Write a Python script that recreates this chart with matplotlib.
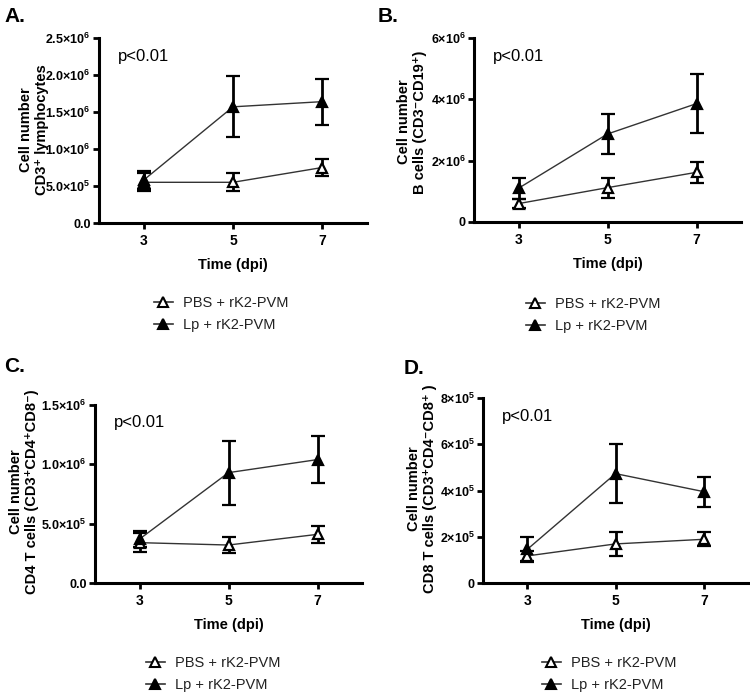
import matplotlib
matplotlib.use("Agg")
import matplotlib.pyplot as plt
from matplotlib.lines import Line2D

plt.rcParams['font.family'] = ['Liberation Sans', 'DejaVu Sans']
plt.rcParams['mathtext.fontset'] = 'custom'
plt.rcParams['mathtext.bf'] = 'Liberation Sans:bold'
plt.rcParams['mathtext.rm'] = 'Liberation Sans'

W, H = 750, 695

days = [3, 5, 7]

# panel A - CD3+ lymphocytes
pbs_a = [0.55e6, 0.55e6, 0.75e6]
pbs_a_err = [0.12e6, 0.12e6, 0.12e6]
lp_a = [0.58e6, 1.57e6, 1.64e6]
lp_a_err = [0.12e6, 0.41e6, 0.31e6]

# panel B - B cells
pbs_b = [0.60e6, 1.12e6, 1.62e6]
pbs_b_err = [0.15e6, 0.33e6, 0.34e6]
lp_b = [1.10e6, 2.87e6, 3.86e6]
lp_b_err = [0.35e6, 0.66e6, 0.97e6]

# panel C - CD4 T cells
pbs_c = [0.34e6, 0.32e6, 0.41e6]
pbs_c_err = [0.08e6, 0.07e6, 0.07e6]
lp_c = [0.37e6, 0.93e6, 1.04e6]
lp_c_err = [0.07e6, 0.27e6, 0.20e6]

# panel D - CD8 T cells
pbs_d = [1.17e5, 1.69e5, 1.89e5]
pbs_d_err = [0.20e5, 0.52e5, 0.30e5]
lp_d = [1.45e5, 4.73e5, 3.95e5]
lp_d_err = [0.55e5, 1.28e5, 0.65e5]

ticks_a = [0, 5e5, 1e6, 1.5e6, 2e6, 2.5e6]
labels_a = ["0.0", r"5.0×10$^{\mathbf{5}}$", r"1.0×10$^{\mathbf{6}}$", r"1.5×10$^{\mathbf{6}}$",
            r"2.0×10$^{\mathbf{6}}$", r"2.5×10$^{\mathbf{6}}$"]
ticks_b = [0, 2e6, 4e6, 6e6]
labels_b = ["0", r"2×10$^{\mathbf{6}}$", r"4×10$^{\mathbf{6}}$", r"6×10$^{\mathbf{6}}$"]
ticks_c = [0, 5e5, 1e6, 1.5e6]
labels_c = ["0.0", r"5.0×10$^{\mathbf{5}}$", r"1.0×10$^{\mathbf{6}}$", r"1.5×10$^{\mathbf{6}}$"]
ticks_d = [0, 2e5, 4e5, 6e5, 8e5]
labels_d = ["0", r"2×10$^{\mathbf{5}}$", r"4×10$^{\mathbf{5}}$", r"6×10$^{\mathbf{5}}$", r"8×10$^{\mathbf{5}}$"]

series_names = ["PBS + rK2-PVM", "Lp + rK2-PVM"]


def px_axes(fig, left, top, right, bottom):
    # pixel box (top-left origin) -> figure fraction
    return fig.add_axes([left / W, (H - bottom) / H, (right - left) / W, (bottom - top) / H])


def draw_panel(ax, pbs, pbs_err, lp, lp_err, ticks, labels):
    for vals, errs, face in [(pbs, pbs_err, "white"), (lp, lp_err, "black")]:
        ax.errorbar(days, vals, yerr=errs, color="#333333", lw=1.0,
                    ecolor="black", elinewidth=2.0, capsize=5, capthick=2.0,
                    marker="^", ms=7.5, mfc=face, mec="black", mew=1.6, zorder=3)
    ax.set_xlim(2, 8)
    ax.set_ylim(0, ticks[-1])
    ax.set_xticks(days)
    ax.set_xticklabels([str(d) for d in days], fontweight="bold", fontsize=10)
    ax.set_yticks(ticks)
    ax.set_yticklabels(labels, fontweight="bold", fontsize=9)
    for s in ["top", "right"]:
        ax.spines[s].set_visible(False)
    for s in ["left", "bottom"]:
        ax.spines[s].set_linewidth(2.2)
    ax.tick_params(width=2.0, length=4, pad=2)
    ax.tick_params(axis="x", pad=4)
    ax.set_xlabel("Time (dpi)", fontweight="bold", fontsize=10.5, labelpad=7)
    ax.text(0.07, 0.90, "p<0.01", transform=ax.transAxes, fontsize=12, va="center")


fig = plt.figure(figsize=(W / 100, H / 100), dpi=100)

ax_a = px_axes(fig, 99, 38, 367, 223)
ax_b = px_axes(fig, 474, 38, 741, 222)
ax_c = px_axes(fig, 95, 405, 362, 583)
ax_d = px_axes(fig, 483, 398, 748, 583)

draw_panel(ax_a, pbs_a, pbs_a_err, lp_a, lp_a_err, ticks_a, labels_a)
draw_panel(ax_b, pbs_b, pbs_b_err, lp_b, lp_b_err, ticks_b, labels_b)
draw_panel(ax_c, pbs_c, pbs_c_err, lp_c, lp_c_err, ticks_c, labels_c)
draw_panel(ax_d, pbs_d, pbs_d_err, lp_d, lp_d_err, ticks_d, labels_d)

# y labels (two lines each)
ylabels = [
    (34, 130, "Cell number\nCD3⁺ lymphocytes"),
    (412, 122, "Cell number\nB cells (CD3⁻CD19⁺)"),
    (24, 492, "Cell number\nCD4 T cells (CD3⁺CD4⁺CD8⁻)"),
    (422, 489, "Cell number\nCD8 T cells (CD3⁺CD4⁻CD8⁺ )"),
]
for x, y, t in ylabels:
    fig.text(x / W, 1 - y / H, t, rotation=90, ha="center", va="center",
             fontweight="bold", fontsize=10.5, linespacing=1.1, multialignment="center")

# panel letters
for x, y, t in [(4, 16, "A."), (378, 16, "B."), (4, 366, "C."), (404, 368, "D.")]:
    fig.text(x / W, 1 - y / H, t, fontweight="bold", fontsize=15, va="center")

# legends
handles = [
    Line2D([0], [0], color="#333333", lw=1.2, marker="^", ms=7, mfc="white", mec="black", mew=1.5),
    Line2D([0], [0], color="#333333", lw=1.2, marker="^", ms=7, mfc="black", mec="black", mew=1.5),
]
for x, y in [(154, 296), (526, 297), (146, 656), (542, 656)]:
    fig.legend(handles, series_names, loc="upper left", bbox_to_anchor=(x / W, 1 - y / H),
               frameon=False, fontsize=10.5, handlelength=1.3, handletextpad=0.7,
               labelspacing=0.55, borderaxespad=0, borderpad=0, labelcolor="#222222")

fig.savefig("out.png", dpi=100)
